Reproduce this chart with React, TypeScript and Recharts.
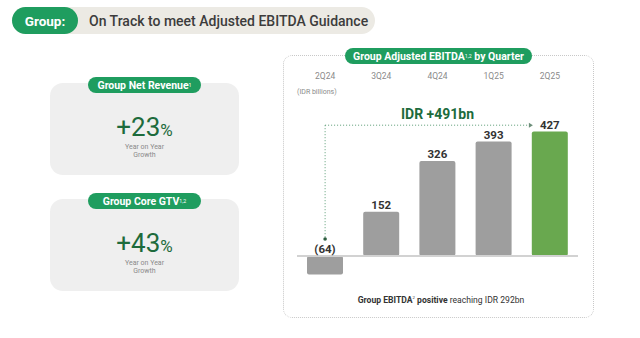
import React from 'react';
import { BarChart, Bar, XAxis, YAxis, Cell, LabelList, ReferenceLine } from 'recharts';

const quarters = ['2Q24', '3Q24', '4Q24', '1Q25', '2Q25'];
const ebitda = [-64, 152, 326, 393, 427];
const highlightQuarter = '2Q25';
const yDomain = [-100, 460];
const annotationText = 'IDR +491bn';
const annotationLevel = 449;
const annotationFoot = 58;
const netRevenueGrowth = '+23';
const coreGtvGrowth = '+43';

const data = quarters.map((q, i) => ({ quarter: q, value: ebitda[i] }));

const FONT = 'Roboto, "Open Sans", sans-serif';
const GREEN = '#1f9d5f';
const DARK_GREEN = '#1d6b3c';
const BAR_GRAY = '#9e9e9e';
const BAR_GREEN = '#69a84f';
const DOT_GREEN = '#5a9c75';

const fmt = (v: number) => (v < 0 ? `(${Math.abs(v)})` : `${v}`);

const ValueLabel = (props: any) => {
  const { x, y, width, height, value } = props;
  const top = Math.min(y, y + height);
  return (
    <text x={x + width / 2} y={top - 3} textAnchor="middle" fontFamily={FONT} fontWeight={700} fontSize={11.5} fill="#333">
      {fmt(value)}
    </text>
  );
};

const QuarterTick = (props: any) => {
  const { x, y, payload } = props;
  return (
    <text x={x} y={y} dy={-35} textAnchor="middle" fontFamily={FONT} fontSize={8.5} fill="#8a8a8a">
      {payload.value}
    </text>
  );
};

const ArrowLine = (p: any) => {
  const endX = p.x2 - 20;
  return (
    <g>
      <line x1={p.x1} y1={p.y1} x2={endX} y2={p.y2} stroke={DOT_GREEN} strokeWidth={1} strokeDasharray="1 2" />
      <path d={`M${endX - 1},${p.y2 - 2.5} L${endX + 3},${p.y2} L${endX - 1},${p.y2 + 2.5} Z`} fill="#6d8f7a" />
      <text x={(p.x1 + p.x2) / 2} y={p.y1 - 6} textAnchor="middle" fontFamily={FONT} fontWeight={700} fontSize={14} fill={DARK_GREEN}>
        {annotationText}
      </text>
    </g>
  );
};

const DropLine = (p: any) => (
  <g>
    <line x1={p.x1} y1={p.y1} x2={p.x2} y2={p.y2} stroke={DOT_GREEN} strokeWidth={1} strokeDasharray="1 2" />
    <circle cx={p.x2} cy={p.y2} r={1.8} fill="#2e5e40" />
  </g>
);

const Pill = ({ left, top, width, height, children, fontSize = 11 }: any) => (
  <div
    style={{
      position: 'absolute', left, top, width, height, borderRadius: height / 2, background: GREEN,
      color: '#fff', fontFamily: FONT, fontWeight: 700, fontSize, display: 'flex',
      alignItems: 'center', justifyContent: 'center', whiteSpace: 'nowrap',
    }}
  >
    {children}
  </div>
);

const Sup = ({ children }: any) => (
  <span style={{ fontSize: '0.5em', verticalAlign: 'super', fontWeight: 400, lineHeight: 0 }}>{children}</span>
);

const StatCard = ({ top, pillTop, title, value }: any) => (
  <>
    <div style={{ position: 'absolute', left: 50, top, width: 189, height: 92, borderRadius: 13, background: '#efefef' }} />
    <Pill left={88} top={pillTop} width={113} height={16} fontSize={10.5}>{title}</Pill>
    <div style={{ position: 'absolute', left: 50, top: top + 31, width: 189, textAlign: 'center', fontFamily: FONT, color: DARK_GREEN, lineHeight: 1 }}>
      <span style={{ fontSize: 26, fontWeight: 400 }}>{value}</span>
      <span style={{ fontSize: 17 }}>%</span>
    </div>
    <div style={{ position: 'absolute', left: 50, top: top + 60, width: 189, textAlign: 'center', fontFamily: FONT, color: '#8a8a8a', fontSize: 7, lineHeight: '8px' }}>
      Year on Year<br />Growth
    </div>
  </>
);

export default function App() {
  return (
    <div style={{ position: 'absolute', left: 0, top: 0, width: 640, height: 338, background: '#fff', overflow: 'hidden' }}>
      {/* header */}
      <div style={{ position: 'absolute', left: 12, top: 7, width: 363, height: 27, borderRadius: 14, background: '#eceae4' }} />
      <div style={{ position: 'absolute', left: 12, top: 7, width: 66, height: 27, borderRadius: 14, background: GREEN }} />
      <div style={{ position: 'absolute', left: 12, top: 7, width: 66, height: 27, display: 'flex', alignItems: 'center', justifyContent: 'center', fontFamily: FONT, fontWeight: 700, fontSize: 13.5, color: '#fff' }}>Group:</div>
      <div style={{ position: 'absolute', left: 89, top: 7, height: 27, display: 'flex', alignItems: 'center', fontFamily: FONT, fontWeight: 500, fontSize: 14, color: '#3c3c3c', whiteSpace: 'nowrap' }}>
        On Track to meet Adjusted EBITDA Guidance
      </div>

      {/* left cards */}
      <StatCard top={83} pillTop={77} title={<>Group Net Revenue<Sup>1</Sup></>} value={netRevenueGrowth} />
      <StatCard top={199} pillTop={193} title={<>Group Core GTV<Sup>1,2</Sup></>} value={coreGtvGrowth} />

      {/* right panel */}
      <div style={{ position: 'absolute', left: 283, top: 55, width: 311, height: 263, borderRadius: 9, border: '1px dotted #c8c8c8', boxSizing: 'border-box' }} />
      <div style={{ position: 'absolute', left: 297, top: 88, fontFamily: FONT, fontSize: 7, color: '#8a8a8a', whiteSpace: 'nowrap' }}>(IDR billions)</div>

      <div style={{ position: 'absolute', left: 0, top: 0 }}>
        <BarChart width={640} height={338} data={data} margin={{ top: 72, right: 62, bottom: 53, left: 297 }}>
          <XAxis dataKey="quarter" orientation="top" height={50} axisLine={false} tickLine={false} tick={<QuarterTick />} interval={0} />
          <YAxis hide domain={yDomain} type="number" />
          <ReferenceLine y={0} stroke="#d2d2d2" strokeWidth={2} />
          <Bar dataKey="value" barSize={36} radius={[2, 2, 2, 2]} isAnimationActive={false}>
            {data.map((d) => (
              <Cell key={d.quarter} fill={d.quarter === highlightQuarter ? BAR_GREEN : BAR_GRAY} />
            ))}
            <LabelList dataKey="value" content={<ValueLabel />} />
          </Bar>
          <ReferenceLine
            ifOverflow="visible"
            segment={[{ x: quarters[0], y: annotationLevel }, { x: quarters[0], y: annotationFoot }]}
            shape={DropLine}
          />
          <ReferenceLine
            ifOverflow="visible"
            segment={[{ x: quarters[0], y: annotationLevel }, { x: quarters[quarters.length - 1], y: annotationLevel }]}
            shape={ArrowLine}
          />
        </BarChart>
      </div>

      <Pill left={345} top={48} width={187} height={16} fontSize={10.5}>
        Group Adjusted EBITDA<Sup>1,2</Sup>&nbsp;by Quarter
      </Pill>

      <div style={{ position: 'absolute', left: 283, top: 295, width: 316, textAlign: 'center', fontFamily: FONT, fontSize: 8.6, color: '#333', whiteSpace: 'nowrap' }}>
        <b>Group EBITDA<Sup>2</Sup> positive</b> reaching IDR 292bn
      </div>
    </div>
  );
}
